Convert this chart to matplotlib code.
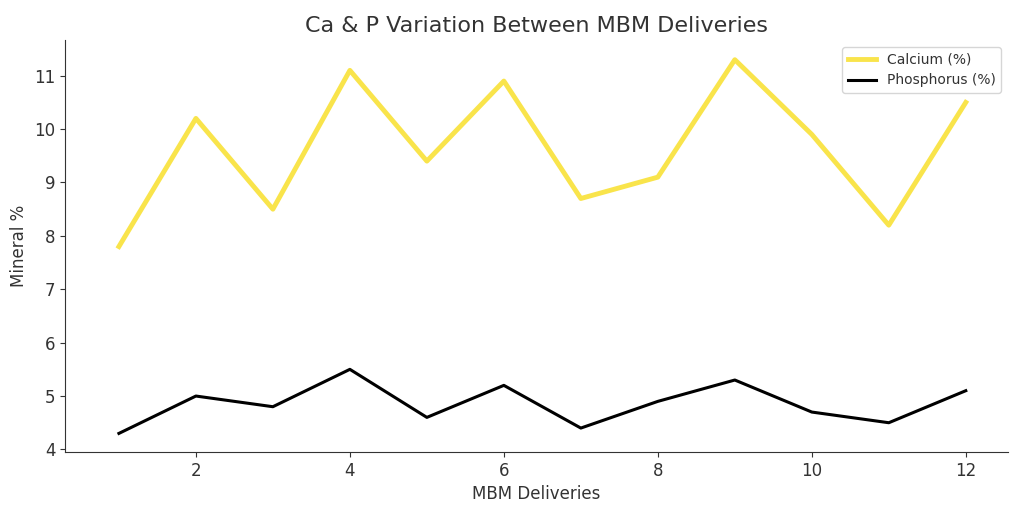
import matplotlib
matplotlib.use("Agg")
import matplotlib.pyplot as plt

deliveries = list(range(1, 13))
calcium = [7.8, 10.2, 8.5, 11.1, 9.4, 10.9, 8.7, 9.1, 11.3, 9.9, 8.2, 10.5]
phosphorus = [4.3, 5.0, 4.8, 5.5, 4.6, 5.2, 4.4, 4.9, 5.3, 4.7, 4.5, 5.1]

plt.rcParams['font.family'] = ['DejaVu Sans']
tc = '#333333'
fig = plt.figure(figsize=(10.24, 5.12), dpi=100)
ax = fig.add_axes([0.0635, 0.117, 0.921, 0.805])
ax.plot(deliveries, calcium, color='#f9e44b', lw=3.5, label='Calcium (%)')
ax.plot(deliveries, phosphorus, color='black', lw=2.2, label='Phosphorus (%)')
ax.set_xlim(0.3, 12.55)
ax.set_ylim(3.95, 11.67)
ax.set_xticks([2, 4, 6, 8, 10, 12])
ax.set_yticks(range(4, 12))
for s in ['top', 'right']:
    ax.spines[s].set_visible(False)
for s in ['left', 'bottom']:
    ax.spines[s].set_color(tc)
ax.tick_params(colors=tc, labelsize=12)
ax.set_title('Ca & P Variation Between MBM Deliveries', fontsize=16, color=tc)
ax.set_xlabel('MBM Deliveries', fontsize=12, color=tc)
ax.set_ylabel('Mineral %', fontsize=12, color=tc)
leg = ax.legend(loc='upper right', fontsize=10)
for t in leg.get_texts():
    t.set_color(tc)
fig.savefig('out.png', dpi=100)
